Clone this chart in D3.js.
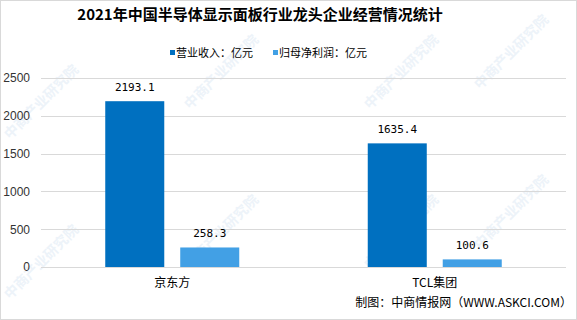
<!DOCTYPE html>
<html>
<head>
<meta charset="utf-8">
<script src="https://cdn.jsdelivr.net/npm/d3@7"></script>
<style>
  body { margin: 0; background: #fff; }
  svg { display: block; }
</style>
</head>
<body>
<script>
var categories = ["京东方", "TCL集团"];
var seriesNames = ["营业收入：亿元", "归母净利润：亿元"];
var revenue = [2193.1, 1635.4];
var profit = [258.3, 100.6];
var yTicks = [0, 500, 1000, 1500, 2000, 2500];
var colors = ["#0070c0", "#42a0e5"];

var w = 577, h = 320;
var margin = {left: 41, right: 11, top: 78, bottom: 53};

var svg = d3.select("body").append("svg")
  .attr("width", w)
  .attr("height", h);

// watermarks
var wm = svg.append("g").attr("fill", "#edf3f9").attr("font-family", "Noto Sans CJK SC").attr("font-size", 14).attr("font-weight", "bold");
[[10, 140], [190, 110], [370, 110], [480, 90], [10, 300], [190, 270], [370, 270], [480, 250]].forEach(function(p) {
  wm.append("text").attr("transform", "translate(" + p[0] + "," + p[1] + ")rotate(-45)").text("中商产业研究院");
});

svg.append("rect").attr("x", 0.5).attr("y", 0.5).attr("width", w - 1).attr("height", h - 1)
  .attr("fill", "none").attr("stroke", "#d9d9d9");

var x0 = d3.scaleBand().domain(categories).range([margin.left, w - margin.right]);
var x1 = d3.scaleBand().domain([0, 1]).range([0, 134]).paddingInner(0.213);
var y = d3.scaleLinear().domain([0, 2500]).range([h - margin.bottom, margin.top]);

svg.append("g").selectAll("line").data(yTicks.slice(1)).enter().append("line")
  .attr("x1", margin.left).attr("x2", w - margin.right)
  .attr("y1", function(d) { return Math.round(y(d)) + 0.5; })
  .attr("y2", function(d) { return Math.round(y(d)) + 0.5; })
  .attr("stroke", "#d9d9d9");

var yAxis = svg.append("g")
  .attr("transform", "translate(" + margin.left + ",0)")
  .call(d3.axisLeft(y).tickValues(yTicks).tickFormat(d3.format("d")).tickSize(0).tickPadding(11));
yAxis.select(".domain").remove();
yAxis.selectAll("text").attr("font-family", "Liberation Sans").attr("font-size", 12).attr("fill", "#333");

var series = [revenue, profit];
var groups = svg.append("g").selectAll("g").data(categories).enter().append("g")
  .attr("transform", function(d) { return "translate(" + (x0(d) + x0.bandwidth() / 2 - 67) + ",0)"; });

groups.each(function(cat, ci) {
  var g = d3.select(this);
  series.forEach(function(s, si) {
    g.append("rect")
      .attr("x", x1(si)).attr("width", x1.bandwidth())
      .attr("y", y(s[ci])).attr("height", y(0) - y(s[ci]))
      .attr("fill", colors[si]);
    g.append("text")
      .attr("x", x1(si) + x1.bandwidth() / 2).attr("y", y(s[ci]) - 10)
      .attr("text-anchor", "middle")
      .attr("font-family", "DejaVu Sans Mono").attr("font-size", 11)
      .attr("fill", "#000")
      .text(s[ci].toFixed(1));
  });
});

svg.append("line")
  .attr("x1", margin.left).attr("x2", w - margin.right)
  .attr("y1", Math.round(y(0)) + 0.5).attr("y2", Math.round(y(0)) + 0.5)
  .attr("stroke", "#d9d9d9");

svg.append("g").selectAll("text").data(categories).enter().append("text")
  .attr("x", function(d) { return x0(d) + x0.bandwidth() / 2; })
  .attr("y", 287)
  .attr("text-anchor", "middle")
  .attr("font-family", "Noto Sans CJK SC").attr("font-size", 12)
  .attr("fill", "#000")
  .text(function(d) { return d; });

// title
svg.append("text")
  .attr("x", 260).attr("y", 20)
  .attr("text-anchor", "middle")
  .attr("font-family", "Noto Sans CJK SC").attr("font-weight", "bold").attr("font-size", 15)
  .attr("fill", "#000")
  .text("2021年中国半导体显示面板行业龙头企业经营情况统计");

// legend
var legendX = [170, 273];
var lg = svg.append("g").selectAll("g").data(seriesNames).enter().append("g")
  .attr("transform", function(d, i) { return "translate(" + legendX[i] + ",53)"; });
lg.append("rect").attr("x", 0).attr("y", -3).attr("width", 5).attr("height", 5)
  .attr("fill", function(d, i) { return colors[i]; });
lg.append("text").attr("x", 6).attr("y", 0).attr("dy", "0.35em")
  .attr("font-family", "Noto Sans CJK SC").attr("font-size", 11).attr("fill", "#000")
  .text(function(d) { return d; });

// source
svg.append("text")
  .attr("x", 572).attr("y", 307)
  .attr("text-anchor", "end")
  .attr("font-family", "Noto Sans CJK SC").attr("font-size", 12).attr("fill", "#000")
  .text("制图：中商情报网（WWW.ASKCI.COM）");
</script>
</body>
</html>
